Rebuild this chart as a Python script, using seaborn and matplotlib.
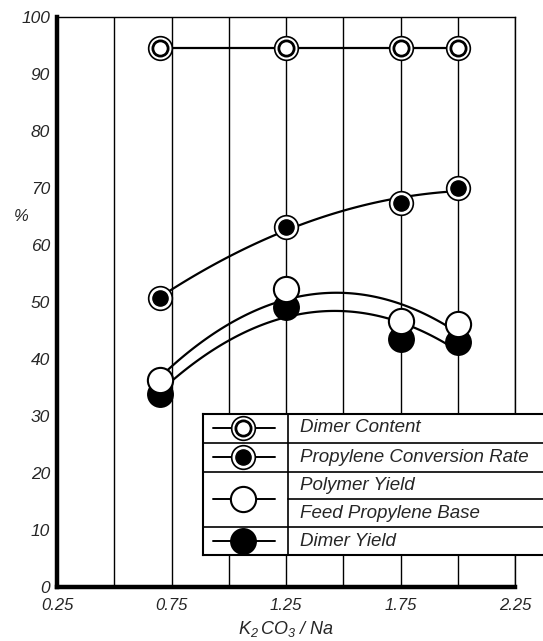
import numpy as np
import pandas as pd
import matplotlib
matplotlib.use("Agg")
import matplotlib.pyplot as plt
from matplotlib.ticker import MultipleLocator, FuncFormatter
import seaborn as sns

# Values
ratio = [0.7, 1.25, 1.75, 2.0]
dimer_content = [94.5, 94.5, 94.5, 94.5]
conversion_rate = [50.7, 63.2, 67.3, 70.0]
polymer_yield = [36.3, 52.3, 46.7, 46.2]
dimer_yield = [33.8, 49.2, 43.5, 43.0]

legend_labels = ["Dimer Content", "Propylene Conversion Rate",
                 "Polymer Yield", "Feed Propylene Base", "Dimer Yield"]

df = pd.DataFrame({
    "ratio": ratio,
    "dimer_content": dimer_content,
    "conversion": conversion_rate,
    "polymer": polymer_yield,
    "dimer": dimer_yield,
})

sns.set_style("white")
plt.rcParams["font.family"] = ["Liberation Sans", "DejaVu Sans"]
plt.rcParams["font.style"] = "italic"
plt.rcParams["mathtext.fontset"] = "custom"
plt.rcParams["mathtext.it"] = "Liberation Sans:italic"
plt.rcParams["mathtext.rm"] = "Liberation Sans:italic"

fig = plt.figure(figsize=(5.43, 6.41), dpi=100)
ax = fig.add_axes([57 / 543, 1 - 587 / 641, 458 / 543, 570 / 641])

line_kw = dict(color="black", lw=1.6, zorder=3)
OUTER, INNER, BIG = 290, 120, 330

# fitted curves
sns.regplot(data=df, x="ratio", y="dimer_content", order=1, ci=None,
            scatter=False, truncate=True, line_kws=line_kw, ax=ax)
sns.regplot(data=df, x="ratio", y="conversion", order=2, ci=None,
            scatter=False, truncate=True, line_kws=line_kw, ax=ax)
sns.regplot(data=df, x="ratio", y="polymer", order=2, ci=None,
            scatter=False, truncate=True, line_kws=line_kw, ax=ax)
sns.regplot(data=df, x="ratio", y="dimer", order=2, ci=None,
            scatter=False, truncate=True, line_kws=line_kw, ax=ax)

# markers
sns.scatterplot(data=df, x="ratio", y="dimer_content", s=OUTER, color="white",
                edgecolor="black", linewidth=1.2, zorder=5, ax=ax)
sns.scatterplot(data=df, x="ratio", y="dimer_content", s=INNER, color="white",
                edgecolor="black", linewidth=2.0, zorder=6, ax=ax)
sns.scatterplot(data=df, x="ratio", y="conversion", s=OUTER, color="white",
                edgecolor="black", linewidth=1.2, zorder=5, ax=ax)
sns.scatterplot(data=df, x="ratio", y="conversion", s=INNER, color="black",
                edgecolor="black", linewidth=1.0, zorder=6, ax=ax)
sns.scatterplot(data=df, x="ratio", y="dimer", s=BIG, color="black",
                edgecolor="black", linewidth=1.2, zorder=5, ax=ax)
sns.scatterplot(data=df, x="ratio", y="polymer", s=BIG, color="white",
                edgecolor="black", linewidth=1.5, zorder=6, ax=ax)

ax.set_xlim(0.25, 2.25)
ax.set_ylim(0, 100)

ax.xaxis.set_major_locator(MultipleLocator(0.25))
ax.xaxis.set_major_formatter(FuncFormatter(
    lambda v, p: f"{v:.2f}" if round(v * 4) % 2 == 1 else ""))
ax.yaxis.set_major_locator(MultipleLocator(10))
ax.yaxis.set_minor_locator(MultipleLocator(20))
ax.yaxis.set_major_formatter(FuncFormatter(lambda v, p: f"{v:.0f}"))

ax.grid(True, axis="x", which="major", color="black", lw=1.0)
ax.grid(True, axis="y", which="minor", color="black", lw=1.0)
ax.set_axisbelow(True)

ax.tick_params(axis="x", length=0, pad=8, labelsize=12)
ax.tick_params(axis="y", which="major", direction="in", length=7,
               width=1.6, pad=5, labelsize=12.5)
ax.tick_params(axis="y", which="minor", length=0)

for side in ["left", "bottom"]:
    ax.spines[side].set_linewidth(3.2)
for side in ["top", "right"]:
    ax.spines[side].set_linewidth(1.0)
for sp in ax.spines.values():
    sp.set_color("black")

ax.set_xlabel(r"$K_2\,CO_3\ /\ Na$", fontsize=13, labelpad=4)
ax.set_ylabel("")
ax.text(-0.078, 0.65, "%", transform=ax.transAxes, fontsize=12,
        ha="center", va="center")

# lift the "0" label above the x tick labels, as in the reference
fig.canvas.draw()
ax.get_yticklabels()[0].set_va("bottom")
ax.get_xticklabels()[0].set_ha("left")

# legend drawn as a boxed table
lg = fig.add_axes([203 / 543, 1 - 555 / 641, 340 / 543, 141 / 641])
lg.set_xlim(0, 340)
lg.set_ylim(141, 0)
lg.set_facecolor("white")
lg.set_xticks([])
lg.set_yticks([])
for side in ["left", "top", "bottom"]:
    lg.spines[side].set_linewidth(1.5)
    lg.spines[side].set_color("black")
lg.spines["right"].set_visible(False)

for yy in [29, 58, 113]:
    lg.plot([0, 340], [yy, yy], color="black", lw=1.2)
lg.plot([85, 340], [85, 85], color="black", lw=1.2)
lg.plot([85, 85], [0, 141], color="black", lw=1.2)

glyph_rows = [14, 43, 85, 127]
for yy in glyph_rows:
    lg.plot([10, 72], [yy, yy], color="black", lw=1.4, zorder=2)
lg.scatter([40], [glyph_rows[0]], s=OUTER, c="white", edgecolors="black", linewidths=1.2, zorder=3)
lg.scatter([40], [glyph_rows[0]], s=INNER, c="white", edgecolors="black", linewidths=2.0, zorder=4)
lg.scatter([40], [glyph_rows[1]], s=OUTER, c="white", edgecolors="black", linewidths=1.2, zorder=3)
lg.scatter([40], [glyph_rows[1]], s=INNER, c="black", edgecolors="black", linewidths=1.0, zorder=4)
lg.scatter([40], [glyph_rows[2]], s=BIG, c="white", edgecolors="black", linewidths=1.5, zorder=3)
lg.scatter([40], [glyph_rows[3]], s=BIG, c="black", edgecolors="black", linewidths=1.2, zorder=3)

text_rows = [14, 43, 72, 99, 127]
for yy, lab in zip(text_rows, legend_labels):
    lg.text(97, yy, lab, fontsize=13.5, va="center", ha="left")

fig.savefig("out.png", dpi=100)
